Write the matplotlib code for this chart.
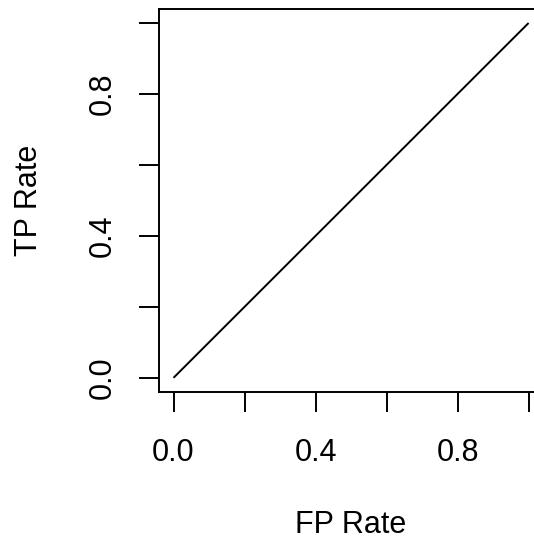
import matplotlib
matplotlib.use("Agg")
import matplotlib.pyplot as plt

plt.rcParams['font.family'] = ['Liberation Sans', 'DejaVu Sans']

# Data: ROC curve of a random classifier
fpr = [0.0, 1.0]
tpr = [0.0, 1.0]
x_ticks = [0.0, 0.2, 0.4, 0.6, 0.8, 1.0]
x_tick_labels = ['0.0', '', '0.4', '', '0.8', '']
y_ticks = [0.0, 0.2, 0.4, 0.6, 0.8, 1.0]
y_tick_labels = ['0.0', '', '0.4', '', '0.8', '']
x_title = 'FP Rate'
y_title = 'TP Rate'

W, H = 534, 544
fig = plt.figure(figsize=(W / 100, H / 100), dpi=100)
left, right, top, bottom = 159.3, 542.8, 8.8, 392.0
ax = fig.add_axes([left / W, (H - bottom) / H, (right - left) / W, (bottom - top) / H])

ax.plot(fpr, tpr, color='black', lw=1.4, solid_capstyle='butt')
ax.set_xlim(-0.04, 1.04)
ax.set_ylim(-0.04, 1.04)

for s in ax.spines.values():
    s.set_linewidth(1.4)
    s.set_color('black')

ax.set_xticks(x_ticks)
ax.set_xticklabels(x_tick_labels)
ax.set_yticks(y_ticks)
ax.set_yticklabels(y_tick_labels, rotation=90, va='center')
ax.tick_params(axis='both', direction='out', length=14.4, width=1.4, labelsize=22, colors='black')
ax.tick_params(axis='x', pad=18.5)
ax.tick_params(axis='y', pad=15.5)

fig.text(351 / W, (H - 533) / H, x_title, ha='center', va='baseline', fontsize=22)
fig.text(37 / W, (H - 200) / H, y_title, ha='center', va='baseline', rotation=90,
         rotation_mode='anchor', fontsize=22)

fig.savefig('out.png', dpi=100)
